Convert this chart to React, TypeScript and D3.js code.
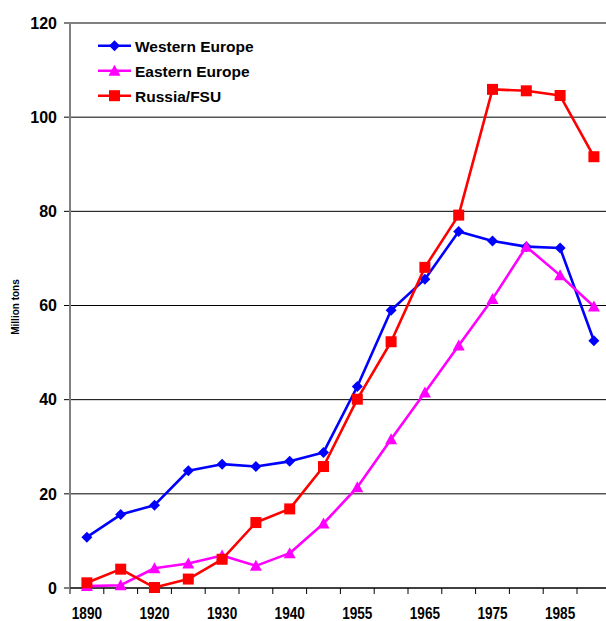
import React from "react";
import * as d3 from "d3";

const categories = ["1890","1913","1920","1925","1930","1935","1940","1950","1955","1960","1965","1970","1975","1980","1985","1990"];
const tickLabels = ["1890","1920","1930","1940","1955","1965","1975","1985"];
const westernEurope = [10.8,15.6,17.6,24.9,26.3,25.8,26.9,28.8,42.8,59.0,65.6,75.7,73.7,72.5,72.2,52.5];
const easternEurope = [0.4,0.6,4.2,5.2,6.9,4.7,7.4,13.7,21.4,31.6,41.5,51.5,61.4,72.5,66.4,59.8];
const russiaFSU = [1.1,4.0,0.1,1.9,6.1,13.9,16.8,25.8,40.1,52.3,68.1,79.2,105.9,105.6,104.6,91.6];
const yTicks = [0,20,40,60,80,100,120];

const seriesList = [
  { name: "Western Europe", values: westernEurope, color: "#0000FF", marker: "diamond" },
  { name: "Eastern Europe", values: easternEurope, color: "#FF00FF", marker: "triangle" },
  { name: "Russia/FSU", values: russiaFSU, color: "#FF0000", marker: "square" },
];

const FONT = "'Liberation Sans', Arial, Helvetica, sans-serif";

function Marker({ type, x, y, color }: { type: string; x: number; y: number; color: string }) {
  if (type === "diamond") {
    const s = 5.5;
    return <path d={`M${x},${y - s}L${x + s},${y}L${x},${y + s}L${x - s},${y}Z`} fill={color} />;
  }
  if (type === "triangle") {
    return <path d={`M${x},${y - 6}L${x + 6},${y + 5}L${x - 6},${y + 5}Z`} fill={color} />;
  }
  return <rect x={x - 5.5} y={y - 5.5} width={11} height={11} fill={color} />;
}

export default function App() {
  const left = 70;
  const band = 33.8;
  const x = d3.scaleBand<string>().domain(categories).range([left, left + band * categories.length]).paddingInner(0).paddingOuter(0);
  const y = d3.scaleLinear().domain([0, 120]).range([588, 23]);
  const cx = (c: string) => (x(c) as number) + x.bandwidth() / 2;
  const right = left + band * categories.length;

  const line = d3.line<number>().x((_, i) => cx(categories[i])).y((d) => y(d));

  const tickXs = categories.map((c) => x(c) as number).concat([right]);

  return (
    <svg width={606} height={621} style={{ position: "absolute", left: 0, top: 0, background: "#fff" }} fontFamily={FONT}>
      {/* gridlines */}
      {yTicks.map((t) => (
        <line key={t} x1={left} x2={right} y1={y(t)} y2={y(t)} stroke="#000" strokeWidth={1} />
      ))}
      {/* y ticks */}
      {yTicks.map((t) => (
        <line key={"yt" + t} x1={64} x2={left} y1={y(t)} y2={y(t)} stroke="#000" strokeWidth={1} />
      ))}
      {/* y labels */}
      {yTicks.map((t) => (
        <text key={"yl" + t} x={57} y={y(t) + 5.7} textAnchor="end" fontWeight="bold" fontSize={16} fill="#000">{t}</text>
      ))}
      {/* x ticks */}
      {tickXs.map((tx, i) => (
        <line key={"xt" + i} x1={tx} x2={tx} y1={588} y2={594} stroke="#000" strokeWidth={1} />
      ))}
      {/* x labels */}
      {tickLabels.map((lab) => (
        <g key={"xl" + lab} transform={`translate(${cx(lab)},619) scale(0.85,1)`}>
          <text textAnchor="middle" fontWeight="bold" fontSize={16} fill="#000">{lab}</text>
        </g>
      ))}
      {/* y axis */}
      <line x1={left} x2={left} y1={y(120)} y2={594} stroke="#808080" strokeWidth={2} />
      <line x1={left} x2={right} y1={588} y2={588} stroke="#000" strokeWidth={1} />
      {/* y title */}
      <text transform="translate(19,307) rotate(-90)" textAnchor="middle" fontWeight="bold" fontSize={10} fill="#000">Million tons</text>
      {/* series */}
      {seriesList.map((s) => (
        <g key={s.name}>
          <path d={line(s.values) || ""} fill="none" stroke={s.color} strokeWidth={2.6} strokeLinejoin="round" />
          {s.values.map((v, i) => (
            <Marker key={i} type={s.marker} x={cx(categories[i])} y={y(v)} color={s.color} />
          ))}
        </g>
      ))}
      {/* legend */}
      {seriesList.map((s, i) => {
        const ly = 45.7 + i * 25;
        return (
          <g key={"lg" + s.name}>
            <line x1={98} x2={131} y1={ly} y2={ly} stroke={s.color} strokeWidth={2.6} />
            <Marker type={s.marker} x={114.5} y={ly} color={s.color} />
            <text x={135} y={ly + 6} fontWeight="bold" fontSize={15.5} fill="#000">{s.name}</text>
          </g>
        );
      })}
    </svg>
  );
}
